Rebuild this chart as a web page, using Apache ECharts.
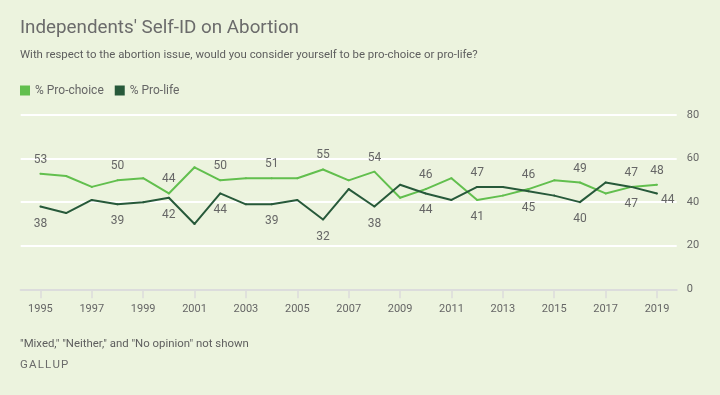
<!DOCTYPE html>
<html>
<head>
<meta charset="utf-8">
<script src="https://cdn.jsdelivr.net/npm/echarts@6/dist/echarts.min.js"></script>
<style>
html,body{margin:0;padding:0;background:#ecf3de;}
#c{width:720px;height:395px;}
</style>
</head>
<body>
<div id="c"></div>
<script>
const years = [1995,1996,1997,1998,1999,2000,2001,2002,2003,2004,2005,2006,2007,2008,2009,2010,2011,2012,2013,2014,2015,2016,2017,2018,2019];
const proChoice = [53,52,47,50,51,44,56,50,51,51,51,55,50,54,42,46,51,41,43,46,50,49,44,47,48];
const proLife   = [38,35,41,39,40,42,30,44,39,39,41,32,46,38,48,44,41,47,47,45,43,40,49,47,44];
const labeledYears = [1995,1998,2000,2002,2004,2006,2008,2010,2012,2014,2016,2018,2019];
const xTickLabels = [1995,1997,1999,2001,2003,2005,2007,2009,2011,2013,2015,2017,2019];
const yTickLabels = [0,20,40,60,80];

const FONT = 'Roboto, "Noto Sans", sans-serif';
const TXT = '#666666';
const LIGHT = '#62bf4e';
const DARK = '#27593a';

function buildData(values, other, isLight) {
  return years.map((y, i) => {
    const item = { value: [y, values[i]] };
    if (labeledYears.indexOf(y) >= 0) {
      const above = isLight ? values[i] >= other[i] : values[i] > other[i];
      const isLast = i === years.length - 1;
      let label;
      if (above) {
        label = { show: true, position: 'top', distance: 7 };
      } else if (isLast) {
        label = { show: true, position: 'right', distance: 3, offset: [0, 7] };
      } else {
        label = { show: true, position: 'bottom', distance: 10 };
      }
      label.color = TXT;
      label.fontSize = 12;
      label.fontFamily = FONT;
      item.label = label;
    }
    return item;
  });
}

const chart = echarts.init(document.getElementById('c'), null, { renderer: 'canvas' });
chart.setOption({
  backgroundColor: '#ecf3de',
  animation: false,
  textStyle: { fontFamily: FONT },
  grid: { left: 20.7, right: 43.3, top: 115, bottom: 105.7 },
  legend: {
    left: 20, top: 84.5, padding: 0, icon: 'rect', itemWidth: 10, itemHeight: 10, itemGap: 11,
    textStyle: { color: TXT, fontSize: 12, fontFamily: FONT },
    data: ['% Pro-choice', '% Pro-life']
  },
  xAxis: {
    type: 'value', min: 1994.233, max: 2019.767,
    splitLine: { show: false },
    axisLine: { show: true, onZero: false, lineStyle: { color: '#dcdcdc', width: 2 } },
    axisTick: { show: true, length: 9, customValues: xTickLabels, lineStyle: { color: '#dcdcdc', width: 1.5 } },
    axisLabel: { customValues: xTickLabels, formatter: v => String(v), color: TXT, fontSize: 11, margin: 14, fontFamily: FONT }
  },
  yAxis: {
    type: 'value', position: 'right', min: 0, max: 80, interval: 20,
    axisLine: { show: false }, axisTick: { show: false },
    splitLine: { show: true, showMinLine: false, lineStyle: { color: '#ffffff', width: 2 } },
    axisLabel: { customValues: yTickLabels, color: TXT, fontSize: 11, margin: 10, fontFamily: FONT }
  },
  series: [
    { name: '% Pro-choice', type: 'line', symbol: 'circle', symbolSize: 2, showSymbol: true, showAllSymbol: true, color: LIGHT,
      lineStyle: { width: 2 }, data: buildData(proChoice, proLife, true) },
    { name: '% Pro-life', type: 'line', symbol: 'circle', symbolSize: 2, showSymbol: true, showAllSymbol: true, color: DARK,
      lineStyle: { width: 2 }, data: buildData(proLife, proChoice, false) }
  ],
  graphic: [
    { type: 'text', style: { x: 20, y: 28, text: "Independents' Self-ID on Abortion", fontSize: 18.8, fontFamily: FONT, fill: '#6b6b6b', verticalAlign: 'middle' } },
    { type: 'text', style: { x: 20, y: 55, text: 'With respect to the abortion issue, would you consider yourself to be pro-choice or pro-life?', fontSize: 11.4, fontFamily: FONT, fill: '#5e5e5e', verticalAlign: 'middle' } },
    { type: 'text', style: { x: 20, y: 344.5, text: '"Mixed," "Neither," and "No opinion" not shown', fontSize: 11.4, fontFamily: FONT, fill: '#5e5e5e', verticalAlign: 'middle' } },
    { type: 'text', style: { x: 20, y: 365, text: 'G\u200AA\u200AL\u200AL\u200AU\u200AP', fontSize: 11.5, fontFamily: FONT, fill: '#6b6b6b', verticalAlign: 'middle' } }
  ]
});
</script>
</body>
</html>
